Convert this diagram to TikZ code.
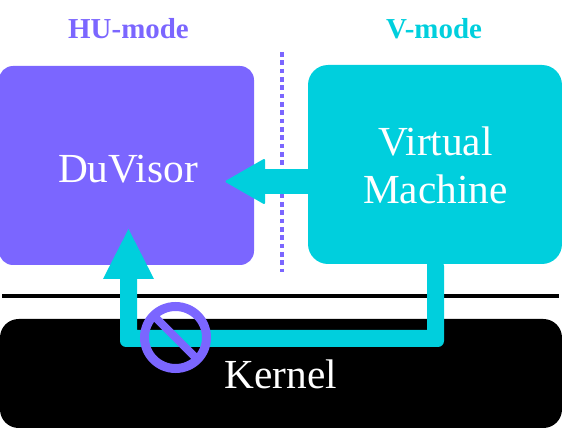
\documentclass[tikz,border=0pt]{standalone}
\usepackage{fontspec}
\setmainfont{Liberation Serif}
\definecolor{vio}{HTML}{7B66FF}
\definecolor{cya}{HTML}{00CFDD}
\tikzset{
  px/.style={x=0.75pt,y=-0.75pt},
  boxtext/.style={text=white,font=\fontsize{31}{35}\selectfont,align=center},
  head/.style={font=\bfseries\fontsize{21.7}{24}\selectfont}
}
\begin{document}
\begin{tikzpicture}[px]
\useasboundingbox (0,0) rectangle (562,428);
\path[fill=vio,rounded corners=10.5pt] (-1,66) rectangle (254,265);
\node[boxtext] (du) at (128,169) {DuVisor};
\path[fill=cya,rounded corners=15pt] (308,65) rectangle (562,264);
\node[boxtext] (vm) at (435.5,165.5) {Virtual\\[1.5pt]Machine};
\path[fill=black,rounded corners=14pt] (0,319) rectangle (562,428);
\node[boxtext] (k) at (281,374) {Kernel};
\node[head,text=vio] (hu) at (128.5,29) {HU-mode};
\node[head,text=cya] (v) at (434,29) {V-mode};
\coordinate (d1) at (282,52); \coordinate (d2) at (282,272);
\draw[vio,line width=3pt,dash pattern=on 3.4pt off 2.85pt] (d1) -- (d2);
\coordinate (l1) at (2,296); \coordinate (l2) at (559,296);
\draw[black,line width=3pt] (l1) -- (l2);
\coordinate (a1) at (308,181.5); \coordinate (a2) at (262,181.5);
\draw[cya,line width=18.75pt] (a1) -- (a2);
\path[fill=cya,draw=cya,line width=1.5pt,line join=round] (226.5,181.5) -- (264,160) -- (264,203) -- cycle;
\path[fill=cya] (427,260) -- (427,330) -- (137,330) -- (137,270) -- (120,270) [rounded corners=4.5pt] -- (120,347) -- (444,347) -- (444,260) [sharp corners] -- cycle;
\path[fill=cya] (128.5,229) -- (103,279) -- (154,279) -- cycle;
\coordinate (c) at (175.5,337.5);
\draw[vio,line width=6.75pt] (c) circle (31);
\draw[vio,line width=6pt] (153,315) -- (198,360);
\end{tikzpicture}
\end{document}
